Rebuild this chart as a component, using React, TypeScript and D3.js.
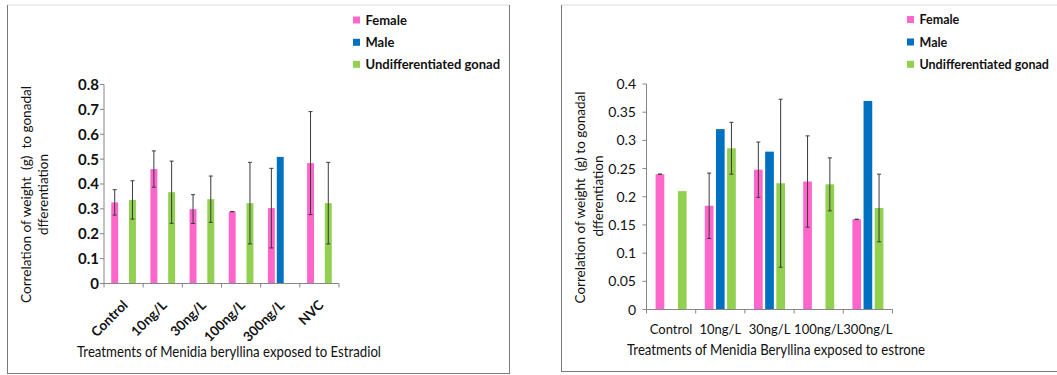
import React from "react";
import * as d3 from "d3";

// ---------- data ----------
const seriesNames = ["Female", "Male", "Undifferentiated gonad"];
const seriesColors = ["#ff66cc", "#0070c0", "#92d050"];

// Left chart: Estradiol
const estCategories = ["Control", "10ng/L", "30ng/L", "100ng/L", "300ng/L", "NVC"];
const estFemale = [0.326, 0.46, 0.299, 0.289, 0.303, 0.484];
const estFemaleErr = [0.051, 0.073, 0.058, 0, 0.16, 0.207];
const estMale: (number | null)[] = [null, null, null, null, 0.509, null];
const estGonad: (number | null)[] = [0.336, 0.367, 0.339, 0.323, null, 0.323];
const estGonadErr: (number | null)[] = [0.077, 0.125, 0.093, 0.164, null, 0.164];
const estTicks = [0, 0.1, 0.2, 0.3, 0.4, 0.5, 0.6, 0.7, 0.8];
const estTickLabels = ["0", "0.1", "0.2", "0.3", "0.4", "0.5", "0.6", "0.7", "0.8"];

// Right chart: Estrone
const esnCategories = ["Control", "10ng/L", "30ng/L", "100ng/L", "300ng/L"];
const esnFemale = [0.24, 0.184, 0.248, 0.227, 0.16];
const esnFemaleErr = [0, 0.058, 0.049, 0.081, 0];
const esnMale: (number | null)[] = [null, 0.32, 0.28, null, 0.37];
const esnGonad: (number | null)[] = [0.21, 0.286, 0.224, 0.222, 0.18];
const esnGonadErr: (number | null)[] = [null, 0.046, 0.149, 0.047, 0.06];
const esnTicks = [0, 0.05, 0.1, 0.15, 0.2, 0.25, 0.3, 0.35, 0.4];
const esnTickLabels = ["0", "0.05", "0.1", "0.15", "0.2", "0.25", "0.3", "0.35", "0.4"];

const FONT = "Lato, 'Open Sans', sans-serif";
const AXIS = "#868686";
const TEXT = "#111";

type PanelProps = {
  cats: string[];
  values: (number | null)[][];
  errors: (number | null)[][];
  ticks: number[];
  tickLabels: string[];
  x0: number;
  x1: number;
  yTop: number;
  yBottom: number;
  rotated: boolean;
  tickBold: boolean;
  tickSize: number;
  tickRight: number;
  catY: number;
  titleX: number;
  titleY: number;
  titleLen: number;
  xTitle: string;
  yTitle1: string;
  yTitle2: string;
  yT1x: number;
  yT2x: number;
  yT1y: number;
  yT2y: number;
  yT1len: number;
  yT2len: number;
  legendX: number;
  legendY: number[];
  legendSize: number;
};

function Panel(p: PanelProps) {
  const x = d3.scaleBand<string>().domain(p.cats).range([p.x0, p.x1]).paddingInner(0).paddingOuter(0);
  const y = d3
    .scaleLinear()
    .domain([p.ticks[0], p.ticks[p.ticks.length - 1]])
    .range([p.yBottom, p.yTop]);
  const bw = x.bandwidth();
  const span = bw * 0.63;
  const inner = d3
    .scaleBand<number>()
    .domain([0, 1, 2])
    .range([-span / 2, span / 2])
    .paddingInner(0.22);
  const barW = inner.bandwidth();
  const boundaries = d3.range(p.cats.length + 1).map((i) => p.x0 + i * bw);

  return (
    <g>
      {/* bars */}
      {p.values.map((vals, s) =>
        vals.map((v, i) => {
          if (v == null) return null;
          const cx = (x(p.cats[i]) as number) + bw / 2;
          const bx = cx + (inner(s) as number);
          return (
            <rect
              key={`b${s}-${i}`}
              x={bx}
              y={y(v)}
              width={barW}
              height={y(0) - y(v)}
              fill={seriesColors[s]}
            />
          );
        })
      )}
      {/* error bars */}
      {p.errors.map((errs, s) =>
        errs.map((e, i) => {
          const v = p.values[s][i];
          if (e == null || v == null) return null;
          const cx = (x(p.cats[i]) as number) + bw / 2 + (inner(s) as number) + barW / 2;
          const yt = y(v + e);
          const yb = y(v - e);
          return (
            <g key={`e${s}-${i}`} stroke="#3a3a3a" strokeWidth={1}>
              <line x1={cx} x2={cx} y1={yt} y2={yb} />
              <line x1={cx - 2} x2={cx + 2} y1={yt} y2={yt} />
              <line x1={cx - 2} x2={cx + 2} y1={yb} y2={yb} />
            </g>
          );
        })
      )}
      {/* y axis */}
      <line x1={p.x0} x2={p.x0} y1={p.yTop} y2={p.yBottom} stroke={AXIS} strokeWidth={1} />
      {p.ticks.map((t, i) => (
        <g key={`yt${i}`}>
          <line x1={p.x0 - 4} x2={p.x0} y1={y(t)} y2={y(t)} stroke={AXIS} />
          <text
            x={p.tickRight}
            y={y(t)}
            dy="0.36em"
            textAnchor="end"
            fontFamily={FONT}
            fontSize={p.tickSize}
            fontWeight={p.tickBold ? "bold" : "normal"}
            fill={TEXT}
          >
            {p.tickLabels[i]}
          </text>
        </g>
      ))}
      {/* x axis */}
      <line x1={p.x0} x2={p.x1} y1={p.yBottom} y2={p.yBottom} stroke={AXIS} strokeWidth={1} />
      {boundaries.map((bx, i) => (
        <line key={`xt${i}`} x1={bx} x2={bx} y1={p.yBottom} y2={p.yBottom + 4} stroke={AXIS} />
      ))}
      {p.cats.map((c, i) => {
        const cx = (x(c) as number) + bw / 2;
        if (p.rotated) {
          return (
            <text
              key={`xl${i}`}
              transform={`translate(${cx + 5},${p.catY}) rotate(-45)`}
              textAnchor="end"
              fontFamily={FONT}
              fontSize={13.5}
              fontWeight="bold"
              fill={TEXT}
            >
              {c}
            </text>
          );
        }
        return (
          <text
            key={`xl${i}`}
            x={cx}
            y={p.catY}
            textAnchor="middle"
            fontFamily={FONT}
            fontSize={13}
            fill={TEXT}
          >
            {c}
          </text>
        );
      })}
      {/* axis titles */}
      <text
        x={p.titleX}
        y={p.titleY}
        textAnchor="middle"
        fontFamily={FONT}
        fontSize={15}
        fill={TEXT}
        textLength={p.titleLen}
        lengthAdjust="spacingAndGlyphs"
      >
        {p.xTitle}
      </text>
      <text
        transform={`translate(${p.yT1x},${p.yT1y}) rotate(-90)`}
        textAnchor="middle"
        fontFamily={FONT}
        fontSize={14}
        fill={TEXT}
        textLength={p.yT1len}
        lengthAdjust="spacingAndGlyphs"
        style={{ whiteSpace: "pre" }}
      >
        {p.yTitle1}
      </text>
      <text
        transform={`translate(${p.yT2x},${p.yT2y}) rotate(-90)`}
        textAnchor="middle"
        fontFamily={FONT}
        fontSize={14}
        fill={TEXT}
        textLength={p.yT2len}
        lengthAdjust="spacingAndGlyphs"
      >
        {p.yTitle2}
      </text>
      {/* legend */}
      {seriesNames.map((n, i) => (
        <g key={`lg${i}`}>
          <rect x={p.legendX} y={p.legendY[i] - 3.5} width={7} height={7} fill={seriesColors[i]} />
          <text
            x={p.legendX + 12.5}
            y={p.legendY[i]}
            dy="0.36em"
            fontFamily={FONT}
            fontSize={p.legendSize}
            fontWeight="bold"
            fill={TEXT}
          >
            {n}
          </text>
        </g>
      ))}
    </g>
  );
}

export default function App() {
  return (
    <svg
      width={1057}
      height={375}
      style={{ position: "absolute", left: 0, top: 0, background: "#fff" }}
    >
      <rect x={0} y={0} width={1057} height={375} fill="#fff" />
      {/* frames */}
      <line x1={7} x2={509} y1={5} y2={5} stroke="#dcdcdc" />
      <line x1={7.5} x2={7.5} y1={5} y2={373} stroke="#7a7a7a" />
      <line x1={509.5} x2={509.5} y1={5} y2={373} stroke="#7a7a7a" />
      <line x1={7} x2={510} y1={373.5} y2={373.5} stroke="#7a7a7a" />
      <line x1={561} x2={1057} y1={5} y2={5} stroke="#dcdcdc" />
      <line x1={561.5} x2={561.5} y1={5} y2={371} stroke="#7a7a7a" />
      <line x1={561} x2={1057} y1={371.5} y2={371.5} stroke="#7a7a7a" />

      <Panel
        cats={estCategories}
        values={[estFemale, estMale, estGonad]}
        errors={[estFemaleErr, estMale.map(() => null), estGonadErr]}
        ticks={estTicks}
        tickLabels={estTickLabels}
        x0={104}
        x1={339}
        yTop={84.5}
        yBottom={283.5}
        rotated={true}
        tickBold={true}
        tickSize={15}
        tickRight={99}
        catY={306}
        titleX={229}
        titleY={357}
        titleLen={304}
        xTitle="Treatments of Menidia beryllina exposed to Estradiol"
        yTitle1="Correlation of weight  (g)  to gonadal"
        yTitle2="dfferentiation"
        yT1x={31}
        yT2x={48}
        yT1y={194.5}
        yT2y={194.5}
        yT1len={217}
        yT2len={81}
        legendX={353}
        legendY={[20, 42.3, 64.3]}
        legendSize={13}
      />
      <Panel
        cats={esnCategories}
        values={[esnFemale, esnMale, esnGonad]}
        errors={[esnFemaleErr, esnMale.map(() => null), esnGonadErr]}
        ticks={esnTicks}
        tickLabels={esnTickLabels}
        x0={646.5}
        x1={892.5}
        yTop={84}
        yBottom={309.5}
        rotated={false}
        tickBold={false}
        tickSize={14}
        tickRight={636}
        catY={334}
        titleX={776}
        titleY={355}
        titleLen={298}
        xTitle="Treatments of Menidia Beryllina exposed to estrone"
        yTitle1="Correlation of weight  (g) to gonadal"
        yTitle2="dfferentiation"
        yT1x={584.5}
        yT2x={603}
        yT1y={197.5}
        yT2y={196}
        yT1len={212}
        yT2len={81}
        legendX={907}
        legendY={[19.5, 42, 64.3]}
        legendSize={12.5}
      />
    </svg>
  );
}
